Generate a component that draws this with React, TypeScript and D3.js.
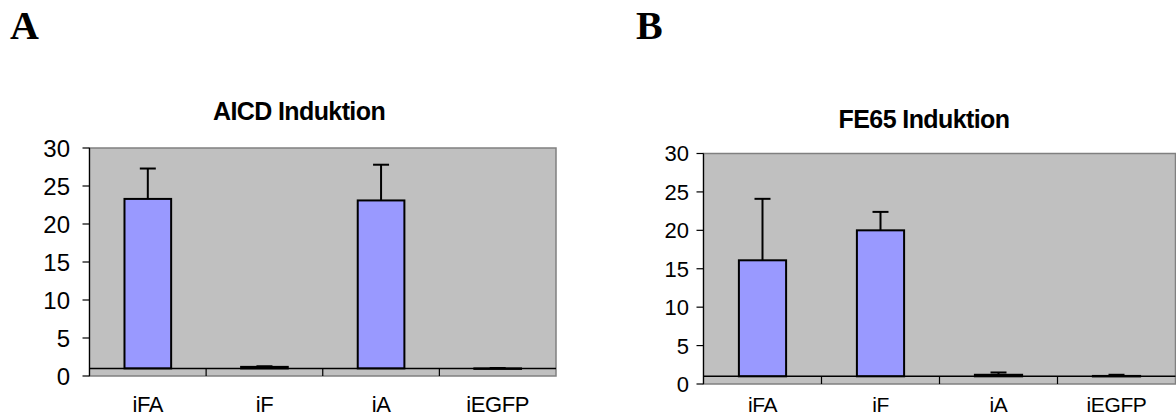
import React from "react";
import * as d3 from "d3";

const categories = ["iFA", "iF", "iA", "iEGFP"];
const aicdMeans = [23.3, 1.2, 23.1, 1.0];
const aicdErrors = [4.0, 0.08, 4.7, 0.05];
const fe65Means = [16.1, 20.0, 1.2, 1.05];
const fe65Errors = [8.0, 2.4, 0.3, 0.15];
const yTicks = [0, 5, 10, 15, 20, 25, 30];
const axisCross = 1;

type PanelProps = {
  title: string;
  means: number[];
  errors: number[];
  left: number;
  right: number;
  top: number;
  bottom: number;
  titleX: number;
  titleY: number;
  titleSize: number;
  tickSize: number;
  tickLabelRight: number;
  catSize: number;
  catY: number;
};

function Panel(p: PanelProps) {
  const y = d3.scaleLinear().domain([0, 30]).range([p.bottom, p.top]);
  const x = d3.scaleBand<string>().domain(categories).range([p.left, p.right]).paddingInner(0).paddingOuter(0);
  const bw = x.bandwidth() * 0.4;
  const font = "'Liberation Sans', Arial, sans-serif";
  const bounds = categories.map((c) => x(c) as number).concat([p.right]);
  return (
    <g>
      <text x={p.titleX} y={p.titleY} textAnchor="middle" fontFamily={font} fontWeight="bold" fontSize={p.titleSize} letterSpacing={-0.6} fill="#000">
        {p.title}
      </text>
      <rect x={p.left} y={p.top} width={p.right - p.left} height={p.bottom - p.top} fill="#C0C0C0" stroke="#808080" strokeWidth={1.5} />
      <line x1={p.left} x2={p.left} y1={p.top} y2={p.bottom} stroke="#000" strokeWidth={1.2} />
      {yTicks.map((t) => (
        <g key={t}>
          <line x1={p.left - 7} x2={p.left} y1={y(t)} y2={y(t)} stroke="#000" strokeWidth={1.2} />
          <text x={p.tickLabelRight} y={y(t)} dy="0.36em" textAnchor="end" fontFamily={font} fontSize={p.tickSize} fill="#000">
            {t}
          </text>
        </g>
      ))}
      {categories.map((c, i) => {
        const cx = (x(c) as number) + x.bandwidth() / 2;
        const v = p.means[i];
        const top = y(Math.max(v, axisCross));
        const base = y(axisCross);
        const eTop = y(v + p.errors[i]);
        return (
          <g key={c}>
            <rect x={cx - bw / 2} y={top} width={bw} height={Math.max(base - top, 0.5)} fill="#9999FF" stroke="#000" strokeWidth={2} />
            <line x1={cx} x2={cx} y1={top} y2={eTop} stroke="#000" strokeWidth={2} />
            <line x1={cx - 8} x2={cx + 8} y1={eTop} y2={eTop} stroke="#000" strokeWidth={2} />
            <text x={cx} y={p.catY} textAnchor="middle" fontFamily={font} fontSize={p.catSize} letterSpacing={-0.4} fill="#000">
              {c}
            </text>
          </g>
        );
      })}
      <line x1={p.left} x2={p.right} y1={y(axisCross)} y2={y(axisCross)} stroke="#000" strokeWidth={1.5} />
      {bounds.slice(1, 4).map((bx, i) => (
        <line key={i} x1={bx} x2={bx} y1={y(axisCross)} y2={p.bottom} stroke="#000" strokeWidth={1.2} />
      ))}
    </g>
  );
}

export default function App() {
  return (
    <svg width={1176} height={416} style={{ position: "absolute", left: 0, top: 0, background: "#fff" }}>
      <text x={10} y={39} fontFamily="'Liberation Serif', 'Times New Roman', serif" fontWeight="bold" fontSize={40}>A</text>
      <text x={636} y={39} fontFamily="'Liberation Serif', 'Times New Roman', serif" fontWeight="bold" fontSize={40}>B</text>
      <Panel
        title="AICD Induktion"
        means={aicdMeans}
        errors={aicdErrors}
        left={89.5}
        right={556}
        top={148}
        bottom={376}
        titleX={299}
        titleY={120}
        titleSize={25}
        tickSize={24}
        tickLabelRight={70}
        catSize={22}
        catY={411.5}
      />
      <Panel
        title="FE65 Induktion"
        means={fe65Means}
        errors={fe65Errors}
        left={703.5}
        right={1175.5}
        top={153.5}
        bottom={384}
        titleX={924}
        titleY={128}
        titleSize={25}
        tickSize={22}
        tickLabelRight={689}
        catSize={21}
        catY={412}
      />
    </svg>
  );
}
